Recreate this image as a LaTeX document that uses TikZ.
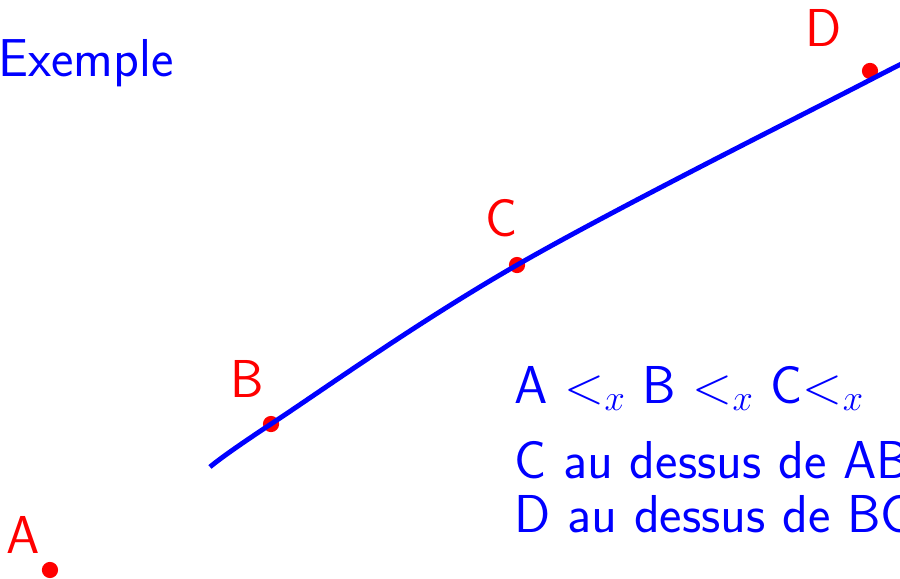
\documentclass[tikz,border=0pt]{standalone}
\usepackage{amsmath}
\usepackage{xcolor}
\usepackage{tikz}
\usetikzlibrary{positioning,calc}
\definecolor{exblue}{RGB}{0,0,255}
\definecolor{exred}{RGB}{255,0,0}
\tikzset{
  curveline/.style={exblue,line width=2.3pt},
  point/.style={circle,fill=exred,inner sep=0pt,minimum size=2.7mm},
  ptlabel/.style={exred,font=\sffamily\fontsize{25.3}{30}\selectfont,anchor=base,inner sep=0pt},
  bluetext/.style={exblue,font=\sffamily\fontsize{25.3}{30}\selectfont,anchor=base west,inner sep=0pt,align=left}
}
\begin{document}
\begin{tikzpicture}
\useasboundingbox (0,0) rectangle (15,-9.65);
\clip (0,0) rectangle (15,-9.65);
% the points
\node[point] (A) at (0.833,-9.5) {};
\node[point] (B) at (4.517,-7.067) {};
\node[point] (C) at (8.617,-4.417) {};
\node[point] (D) at (14.5,-1.183) {};
\node[ptlabel] (la) at (0.383,-9.217) {A};
\node[ptlabel] (lb) at (4.117,-6.633) {B};
\node[ptlabel] (lc) at (8.367,-3.95) {C};
\node[ptlabel] (ld) at (13.733,-0.783) {D};
% the curve through B and C
\draw[curveline] plot[smooth,tension=0.6] coordinates {(3.5,-7.783) (B.center) (C.center) (14.5,-1.333) (15.3,-0.95)};
% texts
\node[bluetext] (title) at (-0.03,-1.283) {Exemple};
\node[bluetext] (order) at (8.57,-6.717) {A $<_x$ B $<_x$ C$<_x$};
\node[bluetext] (above1) at (8.57,-7.967) {C au dessus de AB};
\node[bluetext] (above2) at (8.57,-8.867) {D au dessus de BC};
\end{tikzpicture}
\end{document}
